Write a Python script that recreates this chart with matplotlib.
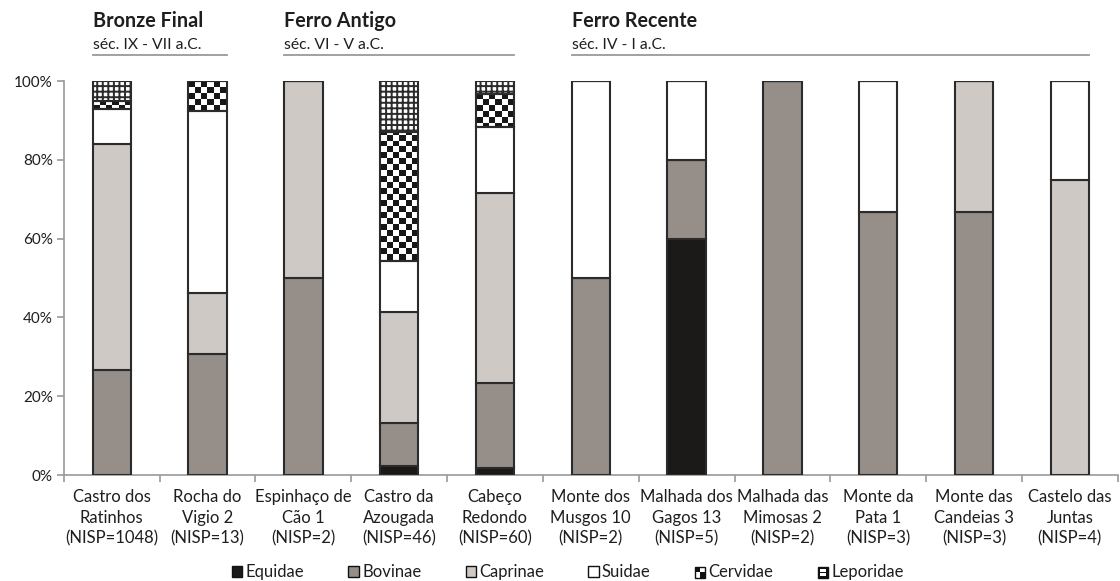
import numpy as np
import matplotlib
matplotlib.use("Agg")
import matplotlib.pyplot as plt
from matplotlib.patches import Patch, Rectangle
from matplotlib.legend_handler import HandlerBase
import matplotlib.transforms as mtransforms

plt.rcParams['font.family'] = ['Lato', 'DejaVu Sans']
plt.rcParams['hatch.linewidth'] = 1.4

# data (percentage of NISP per taxon)
sites = ["Castro dos\nRatinhos\n(NISP=1048)", "Rocha do\nVigio 2\n(NISP=13)",
         "Espinhaço de\nCão 1\n(NISP=2)", "Castro da\nAzougada\n(NISP=46)",
         "Cabeço\nRedondo\n(NISP=60)", "Monte dos\nMusgos 10\n(NISP=2)",
         "Malhada dos\nGagos 13\n(NISP=5)", "Malhada das\nMimosas 2\n(NISP=2)",
         "Monte da\nPata 1\n(NISP=3)", "Monte das\nCandeias 3\n(NISP=3)",
         "Castelo das\nJuntas\n(NISP=4)"]
equidae   = [0, 0, 0, 2.2, 1.7, 0, 60, 0, 0, 0, 0]
bovinae   = [26.6, 30.8, 50, 10.9, 21.7, 50, 20, 100, 66.7, 66.7, 0]
caprinae  = [57.4, 15.4, 50, 28.3, 48.3, 0, 0, 0, 0, 33.3, 75]
suidae    = [8.9, 46.2, 0, 13.0, 16.7, 50, 20, 0, 33.3, 0, 25]
cervidae  = [2.1, 7.7, 0, 32.6, 8.3, 0, 0, 0, 0, 0, 0]
leporidae = [5.0, 0, 0, 13.0, 3.3, 0, 0, 0, 0, 0, 0]

periods = ["Bronze Final", "Ferro Antigo", "Ferro Recente"]
period_dates = ["séc. IX - VII a.C.", "séc. VI - V a.C.", "séc. IV - I a.C."]
period_span = [(0, 1), (2, 4), (5, 10)]

edge = '#2b2b2b'
text_col = '#1e1e1e'
width = 0.4

fig = plt.figure(figsize=(11.2, 5.81), dpi=100)
ax = fig.add_axes([0.057, 0.1824, 0.941, 0.678])

x = np.arange(len(sites))
bottom = np.zeros(len(sites))
series = [(equidae, '#1c1a19', None), (bovinae, '#958e89', None),
          (caprinae, '#cfc9c5', None), (suidae, 'white', None),
          (cervidae, 'white', 'checker'), (leporidae, 'white', '+++')]

# checkerboard pattern image for Cervidae
rows, cols = 66, 176
checker = (np.add.outer(np.arange(rows), np.arange(cols)) % 2).astype(float)

for vals, col, hatch in series:
    v = np.array(vals) / 100.0
    if hatch == 'checker':
        bars = ax.bar(x, v, width, bottom=bottom, facecolor='none',
                      edgecolor=edge, linewidth=1.5, zorder=3)
        for b, h in zip(bars, v):
            if h > 0:
                im = ax.imshow(checker, cmap='gray_r', vmin=0, vmax=1.1,
                               extent=(0, 1, 0, 1), transform=ax.transAxes,
                               interpolation='nearest', aspect='auto', zorder=2)
                im.set_clip_path(b)
    else:
        ax.bar(x, v, width, bottom=bottom, color=col, edgecolor=edge,
               linewidth=1.5, hatch=hatch, zorder=3)
    bottom += v

ax.set_xlim(-0.5, len(sites) - 0.5)
ax.set_ylim(0, 1)

for s in ['top', 'right']:
    ax.spines[s].set_visible(False)
for s in ['left', 'bottom']:
    ax.spines[s].set_color('#9a9a9a')
    ax.spines[s].set_linewidth(1.2)

ax.set_yticks(np.linspace(0, 1, 6))
ax.set_yticklabels([f"{int(t)}%" for t in np.linspace(0, 100, 6)])
ax.tick_params(axis='y', colors='#9a9a9a', labelcolor=text_col,
               labelsize=11, length=5, width=1.2, pad=3)
ax.set_xticks(x)
ax.set_xticklabels(sites, fontsize=12, color=text_col, linespacing=1.36)
ax.set_xticks(np.arange(-0.5, len(sites)), minor=True)
ax.tick_params(axis='x', which='major', length=0, pad=10)
ax.tick_params(axis='x', which='minor', length=5, width=1.2, colors='#9a9a9a')

# period headers above the bars
trans = mtransforms.blended_transform_factory(ax.transData, ax.transAxes)
for name, dates, (a, b) in zip(periods, period_dates, period_span):
    x0, x1 = a - width / 2, b + width / 2
    ax.text(x0, 1.138, name, transform=trans, fontsize=14.2, fontweight='bold',
            color=text_col, ha='left', va='baseline')
    ax.text(x0, 1.081, dates, transform=trans, fontsize=11.3,
            color=text_col, ha='left', va='baseline')
    ax.plot([x0, x1], [1.066, 1.066], transform=trans, color='#9a9a9a',
            lw=1.3, clip_on=False)


class CheckerHandler(HandlerBase):
    def create_artists(self, legend, orig, x0, y0, w, h, fontsize, trans):
        return [Rectangle((x0, y0), w, h, fc='white', ec='#111', lw=1, transform=trans),
                Rectangle((x0, y0 + h / 2), w / 2, h / 2, fc='#111', transform=trans),
                Rectangle((x0 + w / 2, y0), w / 2, h / 2, fc='#111', transform=trans)]


class GridHandler(HandlerBase):
    def create_artists(self, legend, orig, x0, y0, w, h, fontsize, trans):
        return [Rectangle((x0, y0), w, h, fc='#111', ec='#111', lw=1, transform=trans),
                Rectangle((x0 + w * 0.2, y0 + h * 0.57), w * 0.6, h * 0.25, fc='white', transform=trans),
                Rectangle((x0 + w * 0.2, y0 + h * 0.18), w * 0.6, h * 0.25, fc='white', transform=trans)]


names = ["Equidae", "Bovinae", "Caprinae", "Suidae", "Cervidae", "Leporidae"]
handles = [Patch(fc=c, ec='#111', lw=1) for _, c, _ in series[:4]]
handles += [Patch(fc='white'), Patch(fc='black')]
hmap = {handles[4]: CheckerHandler(), handles[5]: GridHandler()}
fig.legend(handles, names, handler_map=hmap, loc='center', ncol=6,
           bbox_to_anchor=(0.507, 0.015), frameon=False, fontsize=12,
           handlelength=0.62, handleheight=0.62, handletextpad=0.2,
           columnspacing=2.65, labelcolor=text_col)

fig.savefig("out.png", dpi=100)
